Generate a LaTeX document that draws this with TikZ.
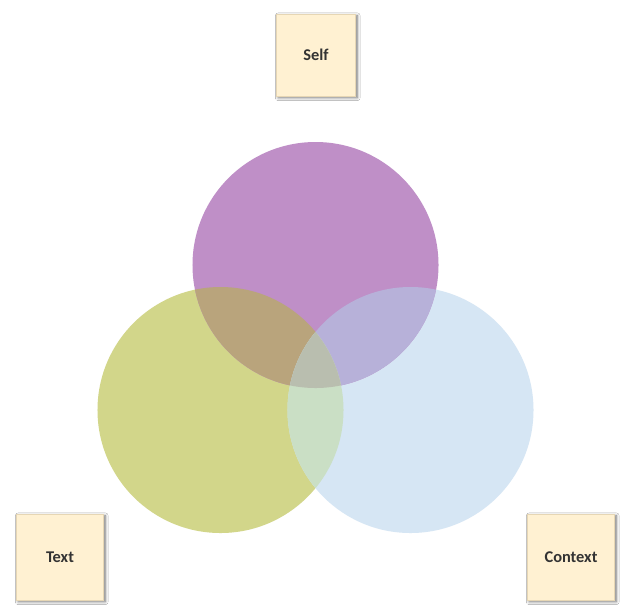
\documentclass[tikz,border=0pt]{standalone}
\usepackage{fontspec}
\setmainfont{Carlito}
\usetikzlibrary{shadows.blur}
\definecolor{greenc}{HTML}{D2D68A}
\definecolor{bluec}{HTML}{D6E6F4}
\definecolor{purplec}{HTML}{BF8FC7}
\definecolor{pgc}{HTML}{B9A47C}
\definecolor{pbc}{HTML}{B7B1D9}
\definecolor{gbc}{HTML}{CADFC5}
\definecolor{pgbc}{HTML}{B9BEAF}
\definecolor{boxc}{HTML}{FFF1D2}
\definecolor{edgec}{HTML}{E6D6B4}
\tikzset{
  label box/.style = {rectangle, draw=edgec, fill=boxc, line width=0.6pt,
    blur shadow={shadow xshift=1.5pt, shadow yshift=-1.5pt, shadow blur radius=2.5pt, shadow opacity=55},
    font=\bfseries\fontsize{14}{16}\selectfont, text=black!80, align=center},
  small box/.style = {label box, minimum width=2.37cm, minimum height=2.46cm},
  wide box/.style = {label box, minimum width=2.61cm, minimum height=2.58cm}
}
\def\R{3.69cm}
\begin{document}
\begin{tikzpicture}[x=0.03cm, y=-0.03cm]
  \useasboundingbox[fill=white] (0,0) rectangle (623,607);
  % circle centres
  \coordinate (pc) at (315.5,265);
  \coordinate (gc) at (220.5,410);
  \coordinate (bc) at (410.5,410);

  % circles
  \fill[greenc] (gc) circle (\R);
  \fill[bluec] (bc) circle (\R);
  \fill[purplec] (pc) circle (\R);

  % overlaps
  \begin{scope}
    \clip (pc) circle (\R);
    \fill[pgc] (gc) circle (\R);
    \fill[pbc] (bc) circle (\R);
  \end{scope}
  \begin{scope}
    \clip (gc) circle (\R);
    \fill[gbc] (bc) circle (\R);
    \clip (pc) circle (\R);
    \fill[pgbc] (bc) circle (\R);
  \end{scope}

  % labels
  \node[small box] (self) at (316,55) {Self};
  \node[wide box] (text) at (60,557) {Text};
  \node[wide box] (context) at (571,557) {Context};
\end{tikzpicture}
\end{document}
